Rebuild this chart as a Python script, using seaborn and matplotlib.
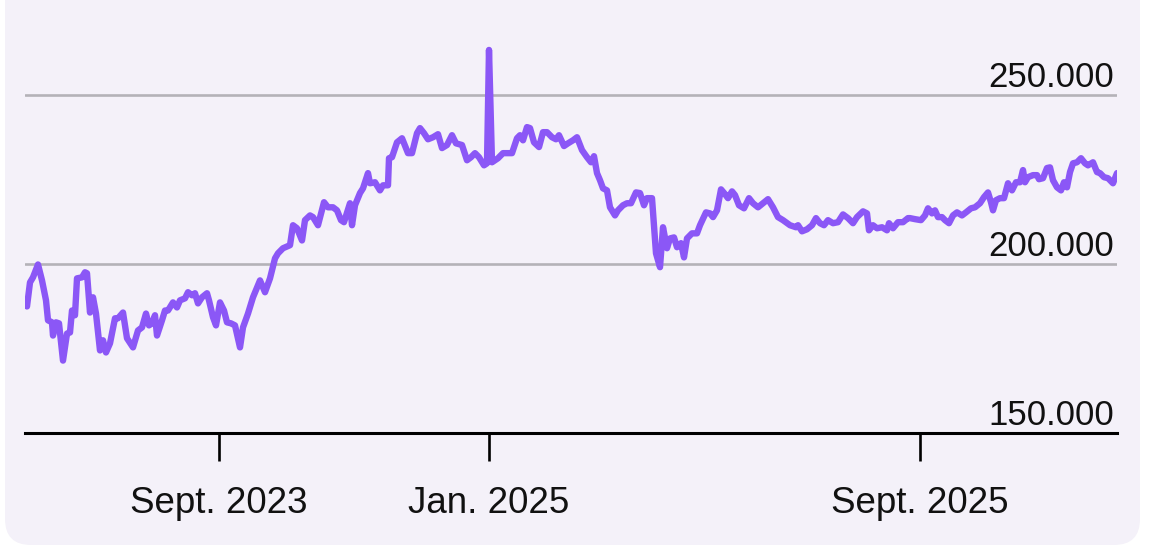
import matplotlib
matplotlib.use("Agg")
import matplotlib.pyplot as plt
import matplotlib.transforms as mtransforms
from matplotlib.patches import FancyBboxPatch
import seaborn as sns
import pandas as pd

# ---- data (trading-day offset, value in thousands) ----
day = [0, 2, 4, 5, 8, 13, 17, 21, 23, 27, 28, 31, 34, 38, 42, 45, 47, 50, 52, 57, 60, 62,
       65, 68, 71, 75, 78, 81, 85, 88, 90, 93, 98, 102, 108, 113, 117, 121, 124, 127, 130,
       132, 137, 140, 143, 148, 152, 155, 160, 163, 167, 170, 173, 177, 182, 184, 188, 191,
       195, 199, 202, 206, 210, 215, 218, 223, 228, 235, 240, 245, 250, 253, 258, 265, 268,
       272, 277, 280, 285, 288, 293, 299, 303, 308, 312, 316, 319, 325, 327, 330, 335, 338,
       343, 345, 350, 355, 358, 363, 364, 367, 372, 377, 383, 387, 392, 395, 399, 403, 408,
       413, 417, 422, 427, 431, 437, 442, 446, 450, 454, 459, 462, 464, 467, 470, 473, 478,
       482, 487, 492, 495, 498, 502, 505, 509, 514, 518, 522, 527, 531, 534, 539, 543, 548,
       552, 557, 562, 566, 569, 572, 575, 578, 582, 585, 590, 593, 598, 602, 606, 611, 615,
       619, 622, 627, 631, 635, 638, 642, 645, 649, 652, 656, 659, 662, 667, 672, 675, 681,
       685, 688, 692, 696, 700, 703, 707, 710, 714, 719, 724, 728, 733, 738, 743, 748, 753,
       758, 765, 771, 773, 777, 782, 787, 791, 795, 799, 803, 808, 813, 818, 823, 828, 832,
       838, 842, 844, 848, 852, 857, 862, 864, 868, 873, 878, 883, 885, 890, 896, 900, 903,
       907, 910, 913, 917, 920, 924, 928, 932, 937, 941, 946, 950, 955, 959, 963, 966, 968,
       971, 975, 979, 983, 987, 991, 995, 998, 1000, 1003, 1008, 1012, 1014, 1018, 1022,
       1025, 1028, 1032, 1036, 1039, 1042, 1045, 1048, 1052, 1056, 1060, 1063, 1068, 1072,
       1075, 1079, 1083, 1088, 1092]
value_k = [189.2, 187.4, 192.1, 194.5, 196.0, 199.8, 195.1, 189.2, 183.3, 182.7, 178.8,
           182.7, 182.4, 171.4, 179.4, 179.7, 186.2, 184.8, 195.7, 196.0, 197.5, 197.2,
           185.6, 190.1, 185.3, 174.4, 177.4, 173.8, 176.5, 180.9, 183.9, 183.9, 185.6,
           178.0, 175.3, 180.3, 181.2, 185.3, 181.8, 182.4, 184.8, 178.8, 183.3, 186.2,
           186.2, 188.6, 187.1, 189.2, 189.8, 191.6, 190.7, 191.3, 188.3, 190.1, 191.3,
           189.2, 184.2, 181.8, 188.6, 186.2, 182.7, 182.4, 181.8, 175.3, 181.2, 185.3,
           190.1, 195.1, 191.6, 195.7, 201.6, 203.1, 204.6, 205.5, 211.4, 210.5, 206.9,
           212.9, 214.3, 213.8, 211.4, 218.2, 216.7, 216.7, 215.8, 212.9, 212.3, 217.9,
           211.4, 217.3, 220.9, 222.3, 226.8, 223.8, 224.1, 221.7, 223.2, 223.2, 231.2,
           231.5, 235.9, 237.1, 232.7, 232.7, 238.6, 240.1, 238.6, 236.8, 237.4, 238.3,
           234.2, 235.1, 238.0, 235.6, 235.1, 230.6, 231.5, 232.7, 231.5, 229.1, 229.7,
           263.2, 230.0, 230.6, 231.2, 232.7, 232.7, 232.7, 237.1, 238.0, 236.5, 240.4,
           240.1, 235.9, 234.5, 238.9, 238.9, 237.4, 236.8, 238.0, 234.8, 235.6, 236.5,
           237.4, 233.6, 231.5, 230.0, 231.8, 226.8, 224.7, 222.3, 221.7, 216.7, 214.3,
           215.8, 217.3, 217.9, 217.9, 221.1, 220.9, 217.3, 219.4, 219.4, 203.1, 199.0,
           210.8, 204.6, 207.5, 207.8, 204.9, 206.1, 201.9, 207.5, 209.0, 209.0, 211.4,
           215.2, 214.9, 213.8, 215.8, 222.0, 220.6, 219.4, 221.4, 220.3, 217.3, 216.4,
           219.4, 217.9, 216.7, 217.9, 219.1, 216.7, 213.8, 212.9, 211.4, 210.8, 211.4,
           209.6, 210.2, 211.4, 213.5, 212.0, 211.4, 212.9, 212.0, 212.3, 214.6, 213.5,
           212.0, 213.8, 215.5, 214.9, 209.9, 211.4, 210.5, 210.8, 209.9, 212.0, 210.5,
           212.3, 212.3, 213.5, 213.5, 213.2, 212.9, 214.3, 216.4, 214.9, 215.8, 213.8,
           213.8, 212.9, 212.0, 214.3, 215.2, 214.3, 215.2, 216.4, 216.7, 217.9, 219.7,
           221.1, 218.2, 215.8, 218.8, 219.4, 219.4, 223.8, 221.7, 224.1, 224.1, 227.7,
           224.1, 225.6, 226.2, 226.2, 225.0, 225.3, 228.3, 228.5, 224.7, 222.6, 221.7,
           224.1, 222.6, 227.1, 229.7, 230.0, 231.2, 229.7, 229.1, 230.0, 227.1, 226.8,
           225.6, 225.3, 223.8, 226.8]
x_tick_days = [194, 464, 895]
x_tick_labels = ["Sept. 2023", "Jan. 2025", "Sept. 2025"]
y_ticks = [150000, 200000, 250000]

assert len(day) == len(value_k), (len(day), len(value_k))
df = pd.DataFrame({"day": day, "value": [v * 1000 for v in value_k]})

sns.set_style("white")
plt.rcParams["font.family"] = ["Liberation Sans", "DejaVu Sans"]

W, H = 1167, 547
fig = plt.figure(figsize=(W / 100, H / 100), dpi=100)
fig.patch.set_facecolor("white")

panel = FancyBboxPatch((5, 2), 1135, 640, boxstyle="round,pad=0,rounding_size=26",
                       transform=mtransforms.IdentityTransform(),
                       facecolor="#F4F1F9", edgecolor="none", zorder=-10)
fig.patches.append(panel)

ax = fig.add_axes([25 / W, 114 / H, (1117 - 25) / W, (H - 114) / H])
ax.set_zorder(5)
ax.set_facecolor("none")
ax.patch.set_alpha(0)

sns.lineplot(data=df, x="day", y="value", ax=ax, color="#8B57F6", linewidth=4.6,
             zorder=3, solid_joinstyle="round", solid_capstyle="round")

ax.set_xlim(0, 1092)
ax.set_ylim(150000, 277960)

for s in ["top", "right", "left"]:
    ax.spines[s].set_visible(False)
ax.spines["bottom"].set_color("black")
ax.spines["bottom"].set_linewidth(2.2)
ax.spines["bottom"].set_zorder(4)

for yv in y_ticks[1:]:
    ax.axhline(yv, color="#B4B2B8", linewidth=1.9, zorder=1)

ytr = mtransforms.blended_transform_factory(ax.transAxes, ax.transData)
for yv in y_ticks:
    lab = f"{yv:,.0f}".replace(",", ".")
    ax.text(0.9975, yv + 300, lab, transform=ytr, ha="right", va="bottom", fontsize=25,
            color="#111111", zorder=5)

ax.set_yticks([])
ax.set_xticks(x_tick_days)
ax.set_xticklabels(x_tick_labels, fontsize=26.5, color="#111111")
ax.tick_params(axis="x", bottom=True, direction="out", length=20, width=1.9,
               color="black", pad=18)
ax.set_xlabel("")
ax.set_ylabel("")

fig.savefig("out.png", dpi=100, facecolor=fig.get_facecolor())
